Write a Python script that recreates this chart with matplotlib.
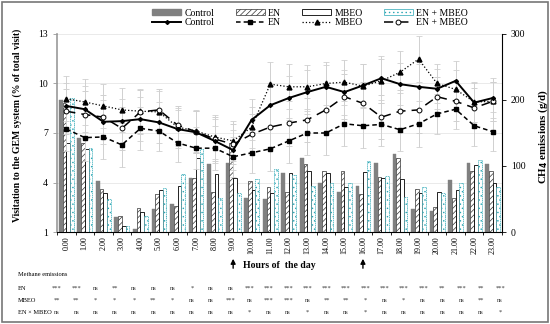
import numpy as np
import matplotlib
matplotlib.use('Agg')
import matplotlib.pyplot as plt
from matplotlib.patches import Rectangle, Patch
from matplotlib.lines import Line2D

plt.rcParams['font.family'] = ['Liberation Serif', 'DejaVu Serif']
plt.rcParams['hatch.linewidth'] = 0.5

########

hours = ['%d.00' % h for h in range(24)]

# visitation to the GEM system (% of total visit) -> bars, left axis
vis_control = [9.0, 6.7, 4.1, 1.9, 1.18, 2.4, 2.7, 4.3, 5.1, 5.2, 3.05, 3.0,
               4.6, 5.5, 3.95, 3.4, 3.8, 5.2, 5.7, 2.4, 2.25, 4.15, 5.2, 5.1]
vis_en = [8.8, 6.4, 3.6, 2.0, 2.45, 3.3, 2.6, 4.3, 3.4, 6.4, 4.1, 3.7,
          3.4, 5.1, 4.7, 4.7, 3.3, 4.35, 5.5, 3.6, 2.5, 3.05, 4.7, 4.7]
vis_mbeo = [6.4, 6.05, 3.35, 1.35, 2.2, 3.55, 3.8, 5.5, 4.5, 4.3, 3.55, 3.35,
            4.55, 4.7, 4.55, 3.75, 4.65, 4.3, 4.2, 3.35, 3.4, 3.55, 5.05, 4.0]
vis_enmbeo = [9.1, 6.1, 3.0, 1.35, 2.0, 3.65, 4.5, 6.0, 3.05, 3.35, 4.2, 4.8,
              4.45, 3.8, 4.0, 4.0, 5.3, 4.4, 3.15, 3.7, 3.35, 3.95, 5.35, 3.7]

# CH4 emissions (g/d) -> lines, right axis
ch4_control = [191, 186, 167, 168, 171, 166, 156, 151, 138, 124, 170, 192,
               203, 212, 220, 212, 222, 233, 224, 220, 217, 229, 196, 203]
ch4_en = [156, 143, 144, 132, 157, 153, 135, 127, 127, 114, 120, 126,
          138, 150, 150, 164, 161, 163, 155, 164, 179, 186, 161, 152]
ch4_mbeo = [202, 197, 191, 185, 183, 182, 159, 153, 144, 138, 159, 224,
            220, 220, 225, 227, 221, 229, 242, 262, 225, 216, 197, 198]
ch4_enmbeo = [183, 178, 174, 157, 182, 185, 162, 152, 141, 133, 148, 159,
              165, 170, 185, 205, 195, 174, 183, 185, 205, 198, 188, 198]
ch4_err = [34, 35, 33, 33, 33, 31, 29, 32, 33, 30, 31, 33,
           34, 33, 33, 34, 33, 33, 32, 35, 30, 30, 30, 30]

# significance table
sig_en = ['***', '***', 'ns', '**', 'ns', 'ns', 'ns', '*', 'ns', 'ns', '***', '***',
          '***', '***', '***', '***', '***', '***', '***', '***', '**', '***', '**', '***']
sig_mbeo = ['**', '**', '*', '*', '*', '**', '*', 'ns', 'ns', '***', 'ns', '***',
            '***', 'ns', '**', '**', '*', 'ns', '*', 'ns', 'ns', 'ns', '**', 'ns']
sig_inter = ['ns', 'ns', 'ns', 'ns', 'ns', 'ns', 'ns', 'ns', 'ns', 'ns', '*', 'ns',
             'ns', '*', 'ns', 'ns', '*', 'ns', 'ns', 'ns', 'ns', 'ns', 'ns', '*']

########

fig = plt.figure(figsize=(5.5, 3.24), dpi=100)
ax = fig.add_axes([57/550, 1-232/324, 445/550, 198/324])
ax2 = ax.twinx()

x = np.arange(24)
w = 0.2
ax.bar(x - 1.5*w, vis_control, w, color='#808080', edgecolor='#808080', lw=0.3, zorder=2)
ax.bar(x - 0.5*w, vis_en, w, color='white', edgecolor='#333333', hatch='//////', lw=0.5, zorder=2)
ax.bar(x + 0.5*w, vis_mbeo, w, color='white', edgecolor='black', lw=0.6, zorder=2)
ax.bar(x + 1.5*w, vis_enmbeo, w, color='white', edgecolor='#2aa7b5', hatch='....', lw=0.5,
       ls=(0, (2, 1)), zorder=2)

ax.set_ylim(1, 13)
ax.set_yticks([1, 4, 7, 10, 13])
ax.set_xlim(-0.5, 23.5)
ax.grid(axis='y', color='#e6e6e6', lw=0.6, zorder=0)
ax.set_axisbelow(True)
ax.set_xticks(x)
ax.set_xticklabels(hours, rotation=90, fontsize=5.8)
ax.set_xticks(np.arange(-0.5, 24, 1), minor=True)
ax.tick_params(axis='x', which='major', length=0, pad=3)
ax.tick_params(axis='x', which='minor', length=2.5, width=0.6)
ax.tick_params(axis='y', labelsize=7, length=3, width=0.6, color='#999999')
ax.set_ylabel('Visitation to the GEM system (% of total visit)', fontsize=7, fontweight='bold')
ax.yaxis.set_label_coords(-0.078, 0.54)
for s in ['top', 'right']:
    ax.spines[s].set_visible(False)
ax.spines['left'].set_color('#999999')
ax.spines['left'].set_linewidth(1.2)
ax.spines['bottom'].set_linewidth(0.8)

ekw = dict(ecolor='#d0d0d0', elinewidth=0.7, capsize=2, capthick=0.6)
ax2.errorbar(x, ch4_mbeo, yerr=ch4_err, color='black', ls=':', lw=0.9, marker='^', ms=3.5, zorder=3, **ekw)
ax2.errorbar(x, ch4_enmbeo, yerr=ch4_err, color='black', ls=(0, (6, 4)), lw=1.1, marker='o', ms=3.5,
             mfc='white', mew=0.7, zorder=3, **ekw)
ax2.errorbar(x, ch4_en, yerr=ch4_err, color='black', ls=(0, (3, 2)), lw=1.1, marker='s', ms=3.5, zorder=3, **ekw)
ax2.errorbar(x, ch4_control, yerr=ch4_err, color='black', ls='-', lw=1.4, marker='D', ms=2, zorder=3, **ekw)

ax2.set_ylim(0, 300)
ax2.set_yticks([0, 100, 200, 300])
ax2.tick_params(axis='y', labelsize=7, length=3, width=0.6)
ax2.set_ylabel('CH$_\\mathbf{4}$ emissions (g/d)', fontsize=7.8, fontweight='bold')
ax2.yaxis.set_label_coords(1.078, 0.48)
for s in ['top', 'left']:
    ax2.spines[s].set_visible(False)
ax2.spines['bottom'].set_visible(False)

handles = [
    Patch(facecolor='#808080', edgecolor='#808080'),
    Line2D([], [], color='black', ls='-', lw=1.4, marker='D', ms=2),
    Patch(facecolor='white', edgecolor='#333333', hatch='//////', lw=0.5),
    Line2D([], [], color='black', ls=(0, (3, 2)), lw=1.1, marker='s', ms=3.5),
    Patch(facecolor='white', edgecolor='black', lw=0.6),
    Line2D([], [], color='black', ls=':', lw=0.9, marker='^', ms=3.5),
    Patch(facecolor='white', edgecolor='#2aa7b5', hatch='....', lw=0.5),
    Line2D([], [], color='black', ls=(0, (6, 4)), lw=1.1, marker='o', ms=3.5, mfc='white', mew=0.7),
]
labels = ['Control', 'Control', 'EN', 'EN', 'MBEO', 'MBEO', 'EN + MBEO', 'EN + MBEO']
fig.legend(handles, labels, ncol=4, loc='center', bbox_to_anchor=(310/550, 1-18/324),
           frameon=False, fontsize=7, handlelength=3, handleheight=0.6, columnspacing=2.2,
           labelspacing=0.1, handletextpad=0.3)

# arrows and x title
tr = ax.get_xaxis_transform()
for h in [9, 16]:
    ax.annotate('', xy=(h, (232-256)/198), xytext=(h, (232-271)/198), xycoords=tr, textcoords=tr,
                arrowprops=dict(arrowstyle='-|>', color='black', lw=1, mutation_scale=7))
ax.text(11.5, (232-265)/198, 'Hours of  the day', transform=tr, fontsize=7, fontweight='bold',
        ha='center', va='center')

# significance table
fig.text(18/550, 1-274/324, 'Methane emissions', fontsize=4.6, va='center')
rows = [('EN', sig_en, 288), ('MBEO', sig_mbeo, 300), ('EN \u00d7 MBEO', sig_inter, 312)]
cols = -0.5 + np.arange(24) * 23.9 / 23
for name, vals, yp in rows:
    fig.text(18/550, 1-yp/324, name, fontsize=4.6, va='center')
    yy = (232 - yp) / 198
    for c, v in zip(cols, vals):
        ax.text(c, yy, v, transform=tr, fontsize=4.6, ha='center', va='center', color='#333333')

fig.patches.append(Rectangle((0.003, 0.005), 0.994, 0.99, transform=fig.transFigure,
                             fill=False, edgecolor='#777777', lw=1.2))

fig.savefig('out.png', dpi=100)
